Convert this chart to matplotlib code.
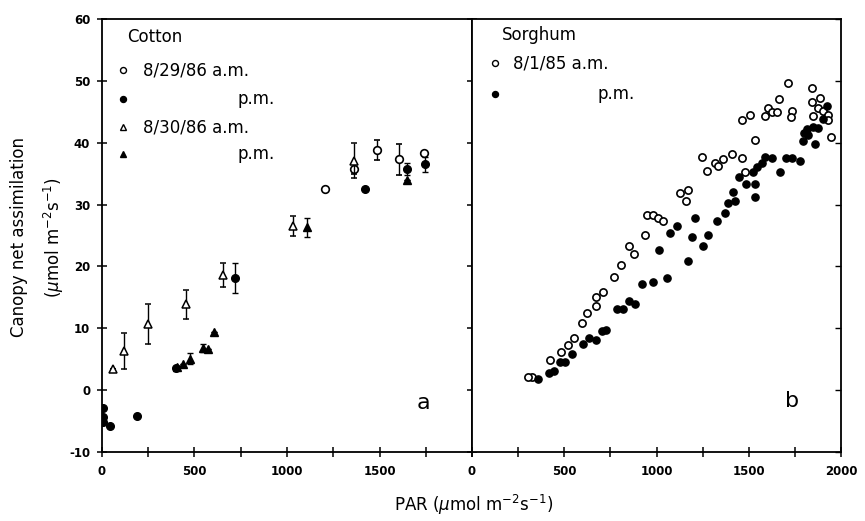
import matplotlib
matplotlib.use("Agg")
import matplotlib.pyplot as plt
import numpy as np

plt.rcParams['font.family'] = ['DejaVu Sans']

# ---------------- Cotton (panel a) ----------------
cot_am29_x = [1205, 1362, 1488, 1605, 1742]
cot_am29_y = [32.5, 35.7, 38.8, 37.3, 38.4]
cot_am29_e = [0.0, 0.8, 1.6, 2.5, 0.0]

cot_pm29_x = [5, 5, 5, 43, 191, 400, 721, 1422, 1647, 1745]
cot_pm29_y = [-2.9, -4.3, -5.1, -5.8, -4.2, 3.6, 18.1, 32.6, 35.8, 36.5]
cot_pm29_e = [0, 0, 0, 0, 0, 0, 2.4, 0, 1.0, 1.2]

cot_am30_x = [58, 117, 247, 454, 652, 1034, 1362]
cot_am30_y = [3.4, 6.4, 10.7, 13.9, 18.6, 26.5, 37.1]
cot_am30_e = [0, 2.9, 3.25, 2.35, 1.9, 1.6, 2.8]

cot_pm30_x = [407, 436, 476, 544, 575, 605, 1106, 1650]
cot_pm30_y = [3.7, 4.2, 5.1, 6.8, 6.7, 9.4, 26.3, 34.0]
cot_pm30_e = [0, 0, 0.9, 0.6, 0, 0, 1.5, 0]

# ---------------- Sorghum (panel b) ----------------
sor_am_x = [1714, 1666, 1603, 1588, 1624, 1651, 1733, 1727, 1507, 1462, 1534,
            1841, 1841, 1886, 1877, 1904, 1931, 1931, 1847, 1944, 1408, 1462,
            1245, 1275, 1317, 1335, 1359, 1480, 1127, 1172, 1160, 938, 947,
            983, 1010, 1034, 853, 880, 808, 771, 712, 672, 672, 625, 595, 555,
            519, 482, 423, 324, 305]
sor_am_y = [49.7, 47.1, 45.6, 44.4, 44.9, 45.0, 45.2, 44.2, 44.5, 43.7, 40.4,
            48.9, 46.6, 47.2, 45.6, 45.2, 44.5, 43.7, 44.3, 40.9, 38.2, 37.6,
            37.7, 35.5, 36.7, 36.2, 37.3, 35.3, 31.8, 32.4, 30.6, 25.1, 28.3,
            28.3, 27.8, 27.3, 23.3, 22.0, 20.2, 18.3, 15.8, 15.1, 13.6, 12.4,
            10.9, 8.5, 7.3, 6.1, 4.9, 2.2, 2.1]

sor_pm_x = [1926, 1904, 1817, 1850, 1877, 1801, 1823, 1792, 1859, 1702, 1733,
            1778, 1669, 1588, 1624, 1570, 1543, 1525, 1449, 1485, 1534, 1534,
            1416, 1425, 1389, 1371, 1326, 1209, 1109, 1073, 1191, 1277, 1250,
            1015, 1172, 1055, 979, 920, 883, 853, 820, 784, 726, 703, 672, 634,
            603, 540, 504, 477, 444, 417, 359]
sor_pm_y = [46.0, 43.9, 42.3, 42.6, 42.4, 41.5, 41.2, 40.2, 39.8, 37.5, 37.6,
            37.0, 35.2, 37.7, 37.6, 36.8, 36.1, 35.3, 34.5, 33.4, 33.4, 31.2,
            32.0, 30.6, 30.2, 28.6, 27.4, 27.8, 26.5, 25.4, 24.7, 25.1, 23.3,
            22.7, 20.8, 18.1, 17.5, 17.1, 14.0, 14.4, 13.1, 13.1, 9.7, 9.5,
            8.1, 8.5, 7.4, 5.8, 4.6, 4.5, 3.1, 2.7, 1.8]

x_ticks_major = [0, 500, 1000, 1500, 2000]
x_labels_a = ['0', '500', '1000', '1500', '']
x_labels_b = ['0', '500', '1000', '1500', '2000']
y_ticks = [-10, 0, 10, 20, 30, 40, 50, 60]

fig = plt.figure(figsize=(8.65, 5.21), dpi=100)
axa = fig.add_axes([0.1179, 0.1324, 0.4278, 0.8311])
axb = fig.add_axes([0.5457, 0.1324, 0.4266, 0.8311])

tickfont = dict(fontsize=8.5, fontweight='bold')

for ax in (axa, axb):
    ax.set_xlim(0, 2000)
    ax.set_ylim(-10, 60)
    ax.set_xticks(x_ticks_major)
    ax.set_xticks(np.arange(250, 2000, 500), minor=True)
    ax.set_yticks(y_ticks)
    ax.tick_params(axis='x', which='both', direction='inout', length=7, width=1.1, pad=6)
    for s in ax.spines.values():
        s.set_linewidth(1.3)

axa.set_xticklabels(x_labels_a, **tickfont)
axb.set_xticklabels(x_labels_b, **tickfont)
axa.set_yticklabels([str(v) for v in y_ticks], **tickfont)
axa.tick_params(axis='y', which='both', direction='inout', length=7, width=1.1,
                right=True, pad=5)
axb.tick_params(axis='y', which='both', direction='in', length=4, width=1.0,
                left=False, right=True, labelleft=False)

ekw = dict(ecolor='black', elinewidth=1.0, capsize=2.2, capthick=1.0, linestyle='none')

axa.errorbar(cot_am29_x, cot_am29_y, yerr=cot_am29_e, marker='o', ms=5.5,
             mfc='white', mec='black', mew=1.2, **ekw, zorder=3)
axa.errorbar(cot_pm29_x, cot_pm29_y, yerr=cot_pm29_e, marker='o', ms=5.5,
             mfc='black', mec='black', mew=1.0, **ekw, zorder=3)
axa.errorbar(cot_am30_x, cot_am30_y, yerr=cot_am30_e, marker='^', ms=5.5,
             mfc='white', mec='black', mew=1.1, **ekw, zorder=4)
axa.errorbar(cot_pm30_x, cot_pm30_y, yerr=cot_pm30_e, marker='^', ms=5.5,
             mfc='black', mec='black', mew=1.0, **ekw, zorder=4)

axb.plot(sor_am_x, sor_am_y, linestyle='none', marker='o', ms=5.2,
         mfc='white', mec='black', mew=1.2, zorder=3)
axb.plot(sor_pm_x, sor_pm_y, linestyle='none', marker='o', ms=5.2,
         mfc='black', mec='black', mew=1.0, zorder=3)

# legends (panel annotations)
lf = 12
T = axa.transAxes
axa.text(0.068, 0.958, 'Cotton', transform=T, fontsize=lf, va='center')
rows = [(0.882, 'o', 'white', '8/29/86 a.m.', 0.111),
        (0.815, 'o', 'black', 'p.m.', 0.365),
        (0.750, '^', 'white', '8/30/86 a.m.', 0.111),
        (0.688, '^', 'black', 'p.m.', 0.365)]
for yy, m, fc, lab, xt in rows:
    axa.plot([0.056], [yy], transform=T, marker=m, ms=4.3, mfc=fc, mec='black',
             mew=1.0, linestyle='none', clip_on=False)
    axa.text(xt, yy, lab, transform=T, fontsize=lf, va='center')
axa.text(0.868, 0.113, 'a', transform=T, fontsize=16, ha='center', va='center')

T2 = axb.transAxes
axb.text(0.081, 0.963, 'Sorghum', transform=T2, fontsize=lf, va='center')
for yy, fc, lab, xt in [(0.898, 'white', '8/1/85 a.m.', 0.111),
                        (0.826, 'black', 'p.m.', 0.341)]:
    axb.plot([0.062], [yy], transform=T2, marker='o', ms=4.3, mfc=fc, mec='black',
             mew=1.0, linestyle='none', clip_on=False)
    axb.text(xt, yy, lab, transform=T2, fontsize=lf, va='center')
axb.text(0.868, 0.117, 'b', transform=T2, fontsize=16, ha='center', va='center')

fig.text(0.548, 0.03, r'PAR ($\mu$mol m$^{-2}$s$^{-1}$)', ha='center', va='center', fontsize=12)
fig.text(0.022, 0.545, 'Canopy net assimilation', rotation=90, ha='center', va='center', fontsize=12)
fig.text(0.062, 0.545, r'($\mu$mol m$^{-2}$s$^{-1}$)', rotation=90, ha='center', va='center', fontsize=12)

fig.savefig('out.png', dpi=100)
